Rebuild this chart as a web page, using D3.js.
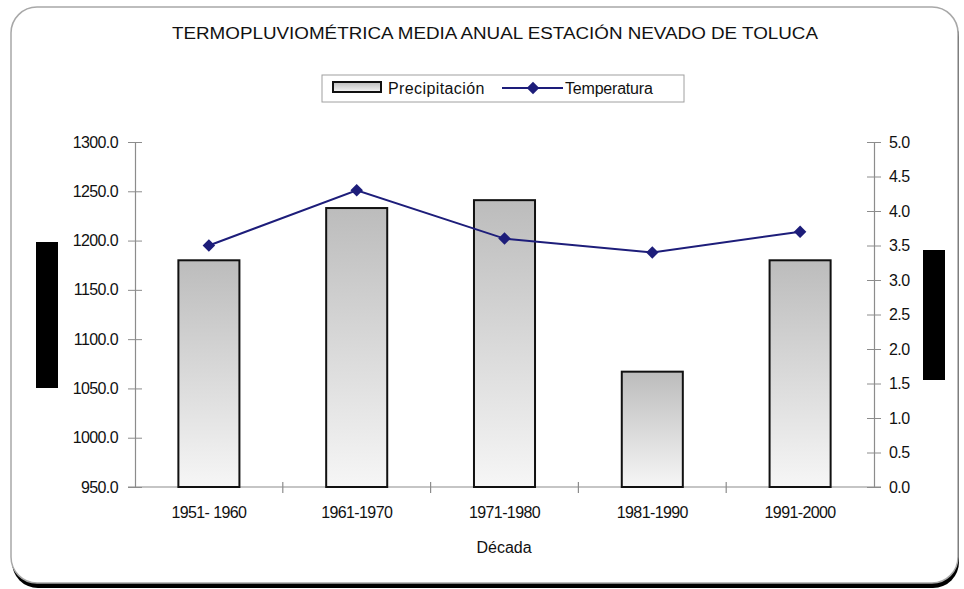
<!DOCTYPE html>
<html>
<head>
<meta charset="utf-8">
<script src="https://cdn.jsdelivr.net/npm/d3@7/dist/d3.min.js"></script>
<style>
  html, body { margin: 0; padding: 0; background: #fff; }
  svg { display: block; font-family: "Liberation Sans", Arial, sans-serif; }
</style>
</head>
<body>
<svg id="chart" width="964" height="589"></svg>
<script>
// Decades and annual means for the Nevado de Toluca station
const decades = ["1951- 1960", "1961-1970", "1971-1980", "1981-1990", "1991-2000"];
const precipitation = [1180, 1233, 1241, 1067, 1180];   // mm
const temperature = [3.5, 4.3, 3.6, 3.4, 3.7];          // °C
const precipTicks = [950, 1000, 1050, 1100, 1150, 1200, 1250, 1300];
const tempTicks = [0, 0.5, 1, 1.5, 2, 2.5, 3, 3.5, 4, 4.5, 5];
const titleText = "TERMOPLUVIOMÉTRICA MEDIA ANUAL ESTACIÓN NEVADO DE TOLUCA";
const legendNames = ["Precipitación", "Temperatura"];
const xTitle = "Década";

const svg = d3.select("#chart");
const plot = { left: 135, right: 874, top: 142, bottom: 487 };
const fs = 16;

// Chart frame with a dark shadow along the bottom
svg.append("rect").attr("x", 12).attr("y", 11).attr("width", 947).attr("height", 577)
  .attr("rx", 26).attr("fill", "#000");
svg.append("rect").attr("x", 11).attr("y", 7).attr("width", 947).attr("height", 576)
  .attr("rx", 26).attr("fill", "#fff").attr("stroke", "#a8a8a8").attr("stroke-width", 1.5);

// Bar gradient
const defs = svg.append("defs");
const grad = defs.append("linearGradient").attr("id", "barFill")
  .attr("x1", 0).attr("y1", 0).attr("x2", 0).attr("y2", 1);
grad.append("stop").attr("offset", "0%").attr("stop-color", "#bcbcbc");
grad.append("stop").attr("offset", "100%").attr("stop-color", "#f6f6f6");

// Scales
const x = d3.scaleBand().domain(decades).range([plot.left, plot.right]).padding(0);
const yP = d3.scaleLinear().domain([950, 1300]).range([plot.bottom, plot.top]);
const yT = d3.scaleLinear().domain([0, 5]).range([plot.bottom, plot.top]);
const barW = x.bandwidth() * 0.413;

// Title
svg.append("text").attr("x", 495).attr("y", 39).attr("text-anchor", "middle")
  .attr("font-size", fs).attr("fill", "#111").attr("textLength", 646)
  .attr("lengthAdjust", "spacingAndGlyphs").text(titleText);

// Axes
const axisColor = "#8c8c8c";
const leftAxis = d3.axisLeft(yP).tickValues(precipTicks).tickSize(7).tickPadding(10)
  .tickFormat(d3.format(".1f"));
const gL = svg.append("g").attr("transform", `translate(${plot.left},0)`).call(leftAxis);
gL.selectAll(".tick line").attr("x2", -7).attr("x1", 7);

const rightAxis = d3.axisRight(yT).tickValues(tempTicks).tickSize(7).tickPadding(8)
  .tickFormat(d3.format(".1f"));
const gR = svg.append("g").attr("transform", `translate(${plot.right},0)`).call(rightAxis);
gR.selectAll(".tick line").attr("x1", -7).attr("x2", 7);

const bottomAxis = d3.axisBottom(x).tickSize(0).tickPadding(20);
const gB = svg.append("g").attr("transform", `translate(0,${plot.bottom})`).call(bottomAxis);

[gL, gR, gB].forEach(g => {
  g.select(".domain").attr("stroke", axisColor).attr("stroke-width", 1.2);
  g.selectAll(".tick line").attr("stroke", axisColor);
  g.selectAll(".tick text").attr("font-size", fs).attr("fill", "#111")
    .attr("font-family", "Liberation Sans, Arial, sans-serif")
    .attr("letter-spacing", -0.6);
});
gB.select(".domain").attr("d", `M${plot.left - 7},0H${plot.right + 7}`);

// Category separator ticks
const bounds = d3.range(1, decades.length).map(i => plot.left + i * x.step());
svg.append("g").selectAll("line").data(bounds).join("line")
  .attr("x1", d => d).attr("x2", d => d)
  .attr("y1", plot.bottom - 5).attr("y2", plot.bottom + 6)
  .attr("stroke", axisColor).attr("stroke-width", 1.2);

// X axis title
svg.append("text").attr("x", 504).attr("y", 553).attr("text-anchor", "middle")
  .attr("font-size", fs).attr("fill", "#111").text(xTitle);

// Bars
svg.append("g").selectAll("rect").data(precipitation).join("rect")
  .attr("x", (d, i) => x(decades[i]) + (x.bandwidth() - barW) / 2)
  .attr("y", d => yP(d))
  .attr("width", barW)
  .attr("height", d => plot.bottom - yP(d))
  .attr("fill", "url(#barFill)")
  .attr("stroke", "#111").attr("stroke-width", 2);

// Temperature line with diamond markers
const lineColor = "#1d1d7a";
const line = d3.line()
  .x((d, i) => x(decades[i]) + x.bandwidth() / 2)
  .y(d => yT(d));
svg.append("path").datum(temperature).attr("d", line)
  .attr("fill", "none").attr("stroke", lineColor).attr("stroke-width", 2);
const marker = d3.symbol().type(d3.symbolSquare).size(78);
svg.append("g").selectAll("path").data(temperature).join("path")
  .attr("transform", (d, i) => `translate(${x(decades[i]) + x.bandwidth() / 2},${yT(d)}) rotate(45)`)
  .attr("d", marker)
  .attr("fill", lineColor);

// Legend
const lg = svg.append("g");
lg.append("rect").attr("x", 322).attr("y", 75).attr("width", 362).attr("height", 27)
  .attr("fill", "#fff").attr("stroke", "#a0a0a0").attr("stroke-width", 1);
lg.append("rect").attr("x", 333).attr("y", 82).attr("width", 48).attr("height", 10)
  .attr("fill", "url(#barFill)").attr("stroke", "#111").attr("stroke-width", 2);
lg.append("text").attr("x", 388).attr("y", 94).attr("font-size", fs).attr("fill", "#111")
  .attr("letter-spacing", 0.4).text(legendNames[0]);
lg.append("line").attr("x1", 502).attr("x2", 563).attr("y1", 88).attr("y2", 88)
  .attr("stroke", lineColor).attr("stroke-width", 2);
lg.append("path").attr("transform", "translate(533,88) rotate(45)")
  .attr("d", marker).attr("fill", lineColor);
lg.append("text").attr("x", 565).attr("y", 94).attr("font-size", fs).attr("fill", "#111")
  .attr("letter-spacing", -0.2).text(legendNames[1]);

// Axis title blocks
svg.append("rect").attr("x", 36).attr("y", 242).attr("width", 22).attr("height", 146).attr("fill", "#000");
svg.append("rect").attr("x", 923).attr("y", 250).attr("width", 22).attr("height", 130).attr("fill", "#000");
</script>
</body>
</html>
